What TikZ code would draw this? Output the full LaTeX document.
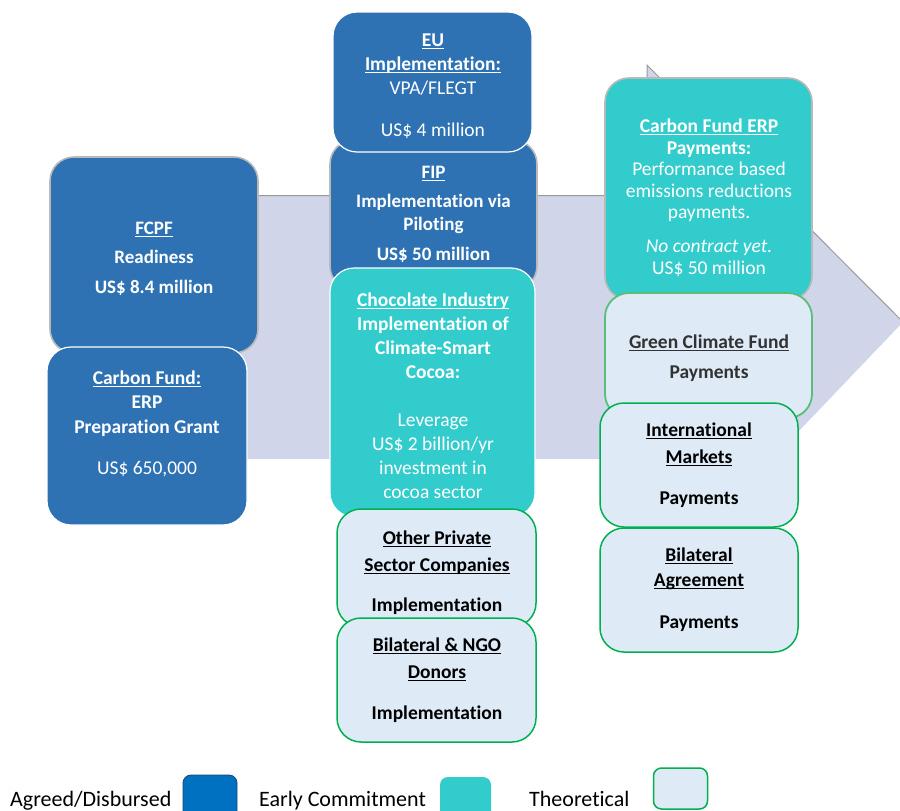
\documentclass[tikz,border=0pt]{standalone}
\usepackage{fontspec}
\setmainfont{Carlito}[Ligatures=NoCommon]
\definecolor{boxblue}{RGB}{46,114,180}
\definecolor{boxteal}{RGB}{51,204,204}
\definecolor{boxlight}{RGB}{222,234,246}
\definecolor{boxgreen}{RGB}{0,176,80}
\definecolor{softgreen}{RGB}{90,190,120}
\definecolor{arrowfill}{RGB}{208,213,234}
\definecolor{legblue}{RGB}{0,112,192}
\definecolor{darktext}{RGB}{50,50,50}
\newsavebox\ulbox
\newcommand\myul[1]{\sbox\ulbox{#1}\rlap{\rule[-2.6pt]{\wd\ulbox}{1.1pt}}\usebox\ulbox}
\begin{document}
\begin{tikzpicture}[x=1pt,y=-1pt,
  box/.style={rectangle, rounded corners=24pt, inner sep=0pt},
  bluebox/.style={box, fill=boxblue, draw=white, line width=1.2pt},
  blueshade/.style={box, fill=boxblue, draw=gray!55, line width=1.6pt},
  tealbox/.style={box, fill=boxteal, draw=white, line width=1.2pt},
  tealshade/.style={box, fill=boxteal, draw=gray!55, line width=1.6pt},
  lightbox/.style={box, fill=boxlight, draw=boxgreen, line width=1.5pt},
  lightsoft/.style={box, fill=boxlight, draw=softgreen, line width=1.8pt},
  txt/.style={anchor=base, align=center, inner sep=0pt, text=white},
  dtxt/.style={anchor=base, align=center, inner sep=0pt, text=black},
  legtxt/.style={anchor=base west, inner sep=0pt, text=black, font=\fontsize{22}{26}\selectfont},
  legbox/.style={rectangle, rounded corners=8pt, inner sep=0pt}
]
\useasboundingbox (0,0) rectangle (900,811);

% big arrow
\fill[arrowfill] (150,195) -- (647,195) -- (647,65) -- (903,322) -- (647,590) -- (647,459) -- (150,459) -- cycle;
\draw[gray!80, line width=1pt] (150,195.5) -- (647,195.5) -- (647,65) -- (903,322);

% left column
\node[blueshade, minimum width=208pt, minimum height=196pt] (fcpf) at (154,255) {};
\node[txt, font=\bfseries\fontsize{19}{29.5}\selectfont] (fcpft) at (154,293) {\myul{FCPF}\\Readiness\\US\$ 8.4 million};

\node[bluebox, minimum width=200pt, minimum height=178pt] (cfund) at (147,436) {};
\node[txt, font=\fontsize{19.5}{24.5}\selectfont] (cfundt) at (147,474) {\textbf{\myul{Carbon Fund:}}\\\textbf{ERP}\\\textbf{Preparation Grant}\\[16.5pt]US\$ 650,000};

% middle column
\node[blueshade, minimum width=207pt, minimum height=150pt] (fip) at (433.5,215) {};
\node[txt, font=\bfseries\fontsize{19}{23}\selectfont] (fipt) at (433.5,260) {\myul{FIP}\\[6pt]Implementation via\\Piloting\\[7pt]US\$ 50 million};

\node[bluebox, minimum width=199pt, minimum height=140pt] (eu) at (432.5,82) {};
\node[txt, font=\fontsize{19.5}{24}\selectfont] (eut) at (433,136) {\textbf{\myul{EU}}\\\textbf{\myul{Implementation:}}\\VPA/FLEGT\\[18pt]US\$ 4 million};

\node[tealbox, minimum width=205pt, minimum height=249pt] (choc) at (432.5,392.5) {};
\node[txt, font=\fontsize{19.5}{24}\selectfont] (choct) at (433,498) {\textbf{\myul{Chocolate Industry}}\\\textbf{Implementation of}\\\textbf{Climate-Smart}\\\textbf{Cocoa:}\\[24pt]Leverage\\US\$ 2 billion/yr\\investment in\\cocoa sector};

\node[lightbox, minimum width=199pt, minimum height=118pt] (opriv) at (436.5,568) {};
\node[dtxt, font=\bfseries\fontsize{19.5}{27}\selectfont] (oprivt) at (437,611) {\myul{Other Private}\\\myul{Sector Companies}\\[13pt]Implementation};

\node[lightbox, minimum width=199pt, minimum height=124pt] (ngo) at (436.5,680) {};
\node[dtxt, font=\bfseries\fontsize{19.5}{27}\selectfont] (ngot) at (437,719) {\myul{Bilateral \& NGO}\\\myul{Donors}\\[14pt]Implementation};

% right column
\node[tealshade, minimum width=207pt, minimum height=222pt] (erp) at (708.5,189) {};
\node[txt, font=\fontsize{19.5}{21.5}\selectfont] (erpt) at (709,274) {\textbf{\myul{Carbon Fund ERP}}\\\textbf{Payments:}\\Performance based\\emissions reductions\\payments.\\[12.5pt]\textit{No contract yet.}\\US\$ 50 million};

\node[lightsoft, minimum width=207pt, minimum height=125pt] (gcf) at (708.5,355.5) {};
\node[anchor=base, align=center, inner sep=0pt, text=darktext, font=\bfseries\fontsize{19.5}{30}\selectfont] (gcft) at (709,378) {\myul{Green Climate Fund}\\Payments};

\node[lightbox, minimum width=198pt, minimum height=124pt] (intl) at (699,465) {};
\node[dtxt, font=\bfseries\fontsize{19.5}{27}\selectfont] (intlt) at (699,504) {\myul{International}\\\myul{Markets}\\[14pt]Payments};

\node[lightbox, minimum width=198pt, minimum height=124pt] (bilat) at (699,590) {};
\node[dtxt, font=\bfseries\fontsize{19.5}{25.5}\selectfont] (bilatt) at (699,628) {\myul{Bilateral}\\\myul{Agreement}\\[16pt]Payments};

% legend
\node[legtxt] (l1) at (10,806) {Agreed/Disbursed};
\node[legbox, fill=legblue, draw=boxblue!60!black, line width=0.8pt, minimum width=54pt, minimum height=50pt] (lb1) at (210,800) {};
\node[legtxt] (l2) at (259,806) {Early Commitment};
\node[legbox, fill=boxteal, minimum width=51pt, minimum height=48pt] (lb2) at (465.5,801) {};
\node[legtxt] (l3) at (529,806) {Theoretical};
\node[legbox, fill=boxlight, draw=boxgreen, line width=1.5pt, minimum width=54pt, minimum height=41pt] (lb3) at (680.5,788.5) {};
\end{tikzpicture}
\end{document}
